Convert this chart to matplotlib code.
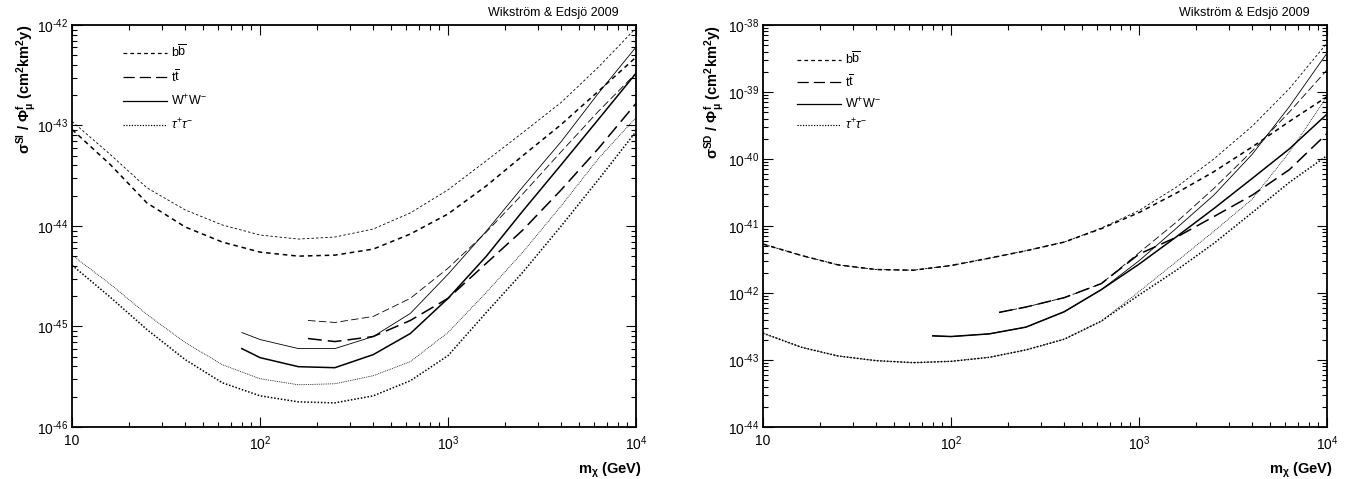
import numpy as np
import matplotlib
matplotlib.use('Agg')
import matplotlib.pyplot as plt
from matplotlib.ticker import LogLocator, NullFormatter, FixedLocator, FixedFormatter
from matplotlib.lines import Line2D

plt.rcParams['font.family'] = ['Liberation Sans', 'DejaVu Sans']
plt.rcParams['mathtext.fontset'] = 'custom'
plt.rcParams['mathtext.rm'] = 'Liberation Sans'
plt.rcParams['mathtext.it'] = 'Liberation Sans:italic'
plt.rcParams['mathtext.bf'] = 'Liberation Sans:bold'

# masses (GeV)
m_full = [10, 16, 25, 40, 63, 100, 160, 250, 400, 630, 1000, 1600, 2500, 4000, 6300, 10000]
m_ww = [80, 100, 160, 250, 400, 630, 1000, 1600, 2500, 4000, 6300, 10000]
m_tt = [180, 250, 400, 630, 1000, 1600, 2500, 4000, 6300, 10000]

# ---- spin-independent (log10 of sigma/Phi) ----
si_bb_thin = [-42.96, -43.29, -43.62, -43.84, -43.99, -44.09, -44.13, -44.11, -44.03, -43.87, -43.64, -43.35, -43.07, -42.77, -42.42, -42.03]
si_bb_thick = [-43.04, -43.39, -43.77, -44.01, -44.16, -44.26, -44.30, -44.29, -44.23, -44.08, -43.88, -43.60, -43.30, -42.99, -42.66, -42.32]
si_tau_thin = [-44.29, -44.58, -44.88, -45.16, -45.38, -45.52, -45.58, -45.57, -45.49, -45.35, -45.06, -44.66, -44.26, -43.80, -43.33, -42.92]
si_tau_thick = [-44.39, -44.71, -45.03, -45.33, -45.56, -45.69, -45.75, -45.76, -45.69, -45.54, -45.29, -44.86, -44.46, -44.00, -43.54, -43.06]
si_ww_thin = [-45.06, -45.13, -45.22, -45.22, -45.10, -44.87, -44.48, -44.05, -43.61, -43.16, -42.68, -42.22]
si_ww_thick = [-45.22, -45.31, -45.40, -45.41, -45.28, -45.07, -44.72, -44.30, -43.85, -43.39, -42.94, -42.48]
si_tt_thin = [-44.94, -44.96, -44.90, -44.72, -44.42, -44.06, -43.68, -43.26, -42.86, -42.48]
si_tt_thick = [-45.12, -45.15, -45.10, -44.94, -44.72, -44.37, -44.04, -43.64, -43.23, -42.78]

# ---- spin-dependent ----
sd_bb_thin = [-41.27, -41.44, -41.58, -41.65, -41.66, -41.59, -41.48, -41.37, -41.24, -41.03, -40.77, -40.41, -40.00, -39.51, -38.95, -38.27]
sd_bb_thick = [-41.27, -41.44, -41.58, -41.65, -41.66, -41.59, -41.48, -41.37, -41.24, -41.04, -40.80, -40.50, -40.19, -39.82, -39.44, -39.07]
sd_tau_thin = [-42.60, -42.81, -42.94, -43.01, -43.04, -43.02, -42.96, -42.85, -42.69, -42.42, -41.98, -41.52, -41.08, -40.60, -39.90, -39.07]
sd_tau_thick = [-42.60, -42.81, -42.94, -43.01, -43.04, -43.02, -42.96, -42.85, -42.69, -42.42, -42.03, -41.65, -41.26, -40.80, -40.35, -39.95]
sd_ww_thin = [-42.64, -42.65, -42.61, -42.51, -42.28, -41.95, -41.52, -41.02, -40.54, -39.93, -39.22, -38.42]
sd_ww_thick = [-42.64, -42.65, -42.61, -42.51, -42.28, -41.95, -41.57, -41.15, -40.74, -40.29, -39.85, -39.33]
sd_tt_thin = [-42.29, -42.21, -42.07, -41.86, -41.40, -40.93, -40.44, -39.88, -39.30, -38.67]
sd_tt_thick = [-42.29, -42.21, -42.07, -41.86, -41.42, -41.16, -40.86, -40.54, -40.16, -39.62]

legend_labels = [r'$\mathregular{b\overline{b}}$', r'$\mathregular{t\overline{t}}$',
                 r'$\mathregular{W^{+}W^{-}}$', r'$\tau^{+}\tau^{-}$']
x_ticks = [10, 100, 1000, 10000]
x_ticklabels = ['10', r'$\mathregular{10^{2}}$', r'$\mathregular{10^{3}}$', r'$\mathregular{10^{4}}$']

sty = {'bb': (0, (3, 2.5)), 'tt': (0, (9, 4)), 'ww': '-', 'tau': (0, (1, 1.2))}
thin, thick = 0.6, 1.1

fig = plt.figure(figsize=(13.57, 4.79), dpi=100)
axL = fig.add_axes([0.0531, 0.1086, 0.4156, 0.8392])
axR = fig.add_axes([0.5623, 0.1086, 0.4156, 0.8392])


def draw(ax, series):
    for m, v, ls, lw in series:
        ax.plot(m, 10 ** np.array(v), color='black', ls=ls, lw=lw)


draw(axL, [(m_full, si_bb_thin, sty['bb'], thin), (m_full, si_bb_thick, sty['bb'], thick),
           (m_full, si_tau_thin, sty['tau'], thin), (m_full, si_tau_thick, sty['tau'], thick),
           (m_ww, si_ww_thin, sty['ww'], thin), (m_ww, si_ww_thick, sty['ww'], thick),
           (m_tt, si_tt_thin, sty['tt'], thin), (m_tt, si_tt_thick, sty['tt'], thick)])
draw(axR, [(m_full, sd_bb_thin, sty['bb'], thin), (m_full, sd_bb_thick, sty['bb'], thick),
           (m_full, sd_tau_thin, sty['tau'], thin), (m_full, sd_tau_thick, sty['tau'], thick),
           (m_ww, sd_ww_thin, sty['ww'], thin), (m_ww, sd_ww_thick, sty['ww'], thick),
           (m_tt, sd_tt_thin, sty['tt'], thin), (m_tt, sd_tt_thick, sty['tt'], thick)])


def style(ax, ymin, ymax, ylabel, leg_anchor, leg_space):
    ax.set_xscale('log')
    ax.set_yscale('log')
    ax.set_xlim(10, 1e4)
    ax.set_ylim(10.0 ** ymin, 10.0 ** ymax)
    ax.xaxis.set_major_locator(FixedLocator(x_ticks))
    ax.xaxis.set_major_formatter(FixedFormatter(x_ticklabels))
    ax.xaxis.set_minor_locator(LogLocator(base=10, subs=np.arange(2, 10), numticks=50))
    ax.xaxis.set_minor_formatter(NullFormatter())
    ex = list(range(ymin, ymax + 1))
    ax.yaxis.set_major_locator(FixedLocator([10.0 ** e for e in ex]))
    # hyphen (U+2010) instead of the long math minus
    ax.yaxis.set_major_formatter(FixedFormatter([r'$\mathregular{10^{%s}}$' % ('\u2010%d' % -e) for e in ex]))
    ax.yaxis.set_minor_locator(LogLocator(base=10, subs=np.arange(2, 10), numticks=50))
    ax.yaxis.set_minor_formatter(NullFormatter())
    ax.tick_params(which='both', direction='in', top=True, right=True, width=0.8, labelsize=10)
    ax.tick_params(which='major', length=7)
    ax.tick_params(which='minor', length=3.5)
    ax.tick_params(axis='y', pad=3)
    ax.tick_params(axis='x', pad=5)
    for s in ax.spines.values():
        s.set_linewidth(1.3)
    ax.set_ylabel(ylabel, fontsize=10.5, fontweight='bold', loc='top')
    ax.set_xlabel(r'$\mathbf{m_{\chi}}$ (GeV)', fontsize=10.5, fontweight='bold', loc='right')
    ax.xaxis.set_label_coords(1.01, -0.085)
    ax.text(0.97, 1.015, 'Wikström & Edsjö 2009', transform=ax.transAxes, ha='right', va='bottom', fontsize=9)
    handles = [Line2D([], [], color='black', lw=0.9, ls=sty[k]) for k in ['bb', 'tt', 'ww', 'tau']]
    ax.legend(handles, legend_labels, loc='upper left', bbox_to_anchor=leg_anchor, frameon=False,
              fontsize=9, handlelength=3.5, handletextpad=0.35, labelspacing=leg_space,
              borderaxespad=0.0)


style(axL, -46, -42, r'$\mathbf{\sigma^{SI}}$ / $\mathbf{\Phi^{f}_{\mu}}$ (cm$\mathbf{^{2}}$km$\mathbf{^{2}}$y)',
      (0.082, 0.965), 0.68)
style(axR, -44, -38, r'$\mathbf{\sigma^{SD}}$ / $\mathbf{\Phi^{f}_{\mu}}$ (cm$\mathbf{^{2}}$km$\mathbf{^{2}}$y)',
      (0.052, 0.947), 0.5)
axL.yaxis.set_label_coords(-0.06, 1.0)
axR.yaxis.set_label_coords(-0.066, 1.0)

fig.savefig('out.png', dpi=100)
